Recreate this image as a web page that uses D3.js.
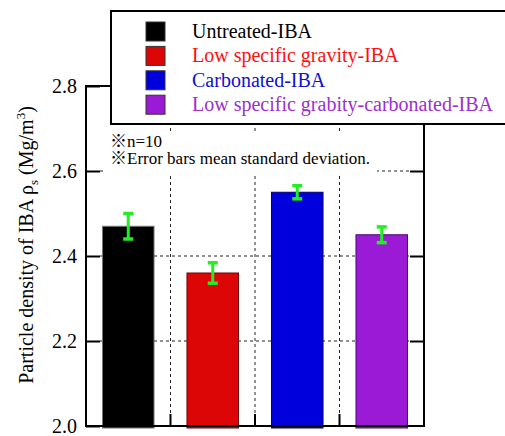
<!DOCTYPE html>
<html>
<head>
  <meta charset="utf-8">
  <script src="https://d3js.org/d3.v7.min.js"></script>
  <style>
    body { margin: 0; background: #fff; }
    text { font-family: "Liberation Serif", "Times New Roman", serif; }
  </style>
</head>
<body>
  <svg width="505" height="436"></svg>
  <script>
    // data
    var categories = ["Untreated-IBA", "Low specific gravity-IBA", "Carbonated-IBA", "Low specific grabity-carbonated-IBA"];
    var values = [2.47, 2.36, 2.55, 2.45];
    var sd = [0.03, 0.024, 0.0155, 0.0185];
    var barColors = ["#000000", "#dd0606", "#0000dd", "#9a1ad6"];
    var edgeColors = ["#777777", "#700000", "#000070", "#4a0a70"];
    var textColors = ["#000000", "#ff1010", "#1010d0", "#9a30d0"];
    var yTicks = [2.0, 2.2, 2.4, 2.6, 2.8];
    var notes = ["※n=10", "※Error bars mean standard deviation."];

    var svg = d3.select("svg");
    var pL = 86, pR = 424, pT = 86, pB = 426;

    var x = d3.scaleBand().domain(categories).range([pL, pR])
      .paddingInner(0.39).paddingOuter(0.195);
    var y = d3.scaleLinear().domain([2.0, 2.8]).range([pB, pT]);

    var rows = categories.map(function (c, i) {
      return { name: c, v: values[i], sd: sd[i], fill: barColors[i], edge: edgeColors[i], tc: textColors[i] };
    });

    // boundaries between categories
    var bounds = categories.slice(1).map(function (c) { return x(c) - x.step() * x.paddingInner() / 2; });

    // grid
    svg.append("g").selectAll("line")
      .data(yTicks.slice(1, 4))
      .enter().append("line")
      .attr("x1", pL + 14).attr("x2", pR - 14)
      .attr("y1", function (d) { return y(d); }).attr("y2", function (d) { return y(d); })
      .attr("stroke", "#222").attr("stroke-width", 1).attr("stroke-dasharray", "3,3");
    svg.append("g").selectAll("line")
      .data(bounds)
      .enter().append("line")
      .attr("x1", function (d) { return d; }).attr("x2", function (d) { return d; })
      .attr("y1", pT).attr("y2", pB - 12)
      .attr("stroke", "#222").attr("stroke-width", 1).attr("stroke-dasharray", "3,3");

    // bars
    svg.append("g").selectAll("rect")
      .data(rows)
      .enter().append("rect")
      .attr("x", function (d) { return x(d.name); })
      .attr("width", x.bandwidth())
      .attr("y", function (d) { return y(d.v); })
      .attr("height", function (d) { return y(2.0) - y(d.v) + 2; })
      .attr("fill", function (d) { return d.fill; })
      .attr("stroke", function (d) { return d.edge; })
      .attr("stroke-width", 1);

    // error bars
    var eb = svg.append("g").attr("stroke", "#22ee22").attr("stroke-width", 3);
    rows.forEach(function (d) {
      var cx = x(d.name) + x.bandwidth() / 2;
      eb.append("line").attr("x1", cx).attr("x2", cx)
        .attr("y1", y(d.v + d.sd)).attr("y2", y(d.v - d.sd));
      [d.v + d.sd, d.v - d.sd].forEach(function (e) {
        eb.append("line").attr("x1", cx - 5).attr("x2", cx + 5)
          .attr("y1", y(e)).attr("y2", y(e)).attr("stroke-width", 3.5);
      });
    });

    // frame
    svg.append("rect")
      .attr("x", pL).attr("y", pT)
      .attr("width", pR - pL).attr("height", pB - pT)
      .attr("fill", "none").attr("stroke", "#000").attr("stroke-width", 2);

    // axes ticks
    var yAxisL = d3.axisLeft(y).tickValues(yTicks).tickSizeInner(-14).tickSizeOuter(0)
      .tickFormat(d3.format(".1f")).tickPadding(9);
    var gl = svg.append("g").attr("transform", "translate(" + pL + ",0)").call(yAxisL);
    gl.select(".domain").remove();
    gl.selectAll("line").attr("stroke-width", 2);
    gl.selectAll("text").attr("font-size", 20).attr("fill", "#000")
      .attr("font-family", "Liberation Serif");

    var yAxisR = d3.axisRight(y).tickValues(yTicks.slice(1, 4)).tickSizeInner(-14).tickSizeOuter(0).tickFormat("");
    var gr = svg.append("g").attr("transform", "translate(" + pR + ",0)").call(yAxisR);
    gr.select(".domain").remove();
    gr.selectAll("line").attr("stroke-width", 2);

    svg.append("g").selectAll("line")
      .data(bounds)
      .enter().append("line")
      .attr("x1", function (d) { return d; }).attr("x2", function (d) { return d; })
      .attr("y1", pB).attr("y2", pB - 12)
      .attr("stroke", "#000").attr("stroke-width", 2);

    // y label
    var yl = svg.append("text")
      .attr("transform", "translate(33,245) rotate(-90)")
      .attr("text-anchor", "middle")
      .attr("font-size", 20).attr("fill", "#000");
    yl.append("tspan").text("Particle density of IBA  ρ");
    yl.append("tspan").text("s").attr("font-size", 13).attr("dy", 5);
    yl.append("tspan").text(" (Mg/m").attr("dy", -5);
    yl.append("tspan").text("3").attr("font-size", 13).attr("dy", -8);
    yl.append("tspan").text(")").attr("dy", 8);

    // notes
    svg.append("rect").attr("x", 105).attr("y", 131).attr("width", 272).attr("height", 42).attr("fill", "#fff");
    svg.append("g").selectAll("text")
      .data(notes)
      .enter().append("text")
      .attr("x", 110)
      .attr("y", function (d, i) { return 147 + i * 16.5; })
      .attr("font-size", 17).attr("fill", "#000")
      .style("font-family", "'Liberation Serif', 'Noto Sans CJK JP', serif")
      .text(function (d) { return d; });

    // legend
    var lg = svg.append("g");
    lg.append("rect").attr("x", 111).attr("y", 11).attr("width", 420).attr("height", 113)
      .attr("fill", "#fff").attr("stroke", "#000").attr("stroke-width", 2);
    var item = lg.selectAll(".item")
      .data(rows)
      .enter().append("g")
      .attr("class", "item")
      .attr("transform", function (d, i) { return "translate(0," + (i * 24.4) + ")"; });
    item.append("rect")
      .attr("x", 146).attr("y", 22).attr("width", 19).attr("height", 19)
      .attr("fill", function (d) { return d.fill; })
      .attr("stroke", "#333").attr("stroke-width", 1);
    item.append("text")
      .attr("x", 192).attr("y", 38)
      .attr("font-size", 20)
      .attr("fill", function (d) { return d.tc; })
      .text(function (d) { return d.name; });
  </script>
</body>
</html>
